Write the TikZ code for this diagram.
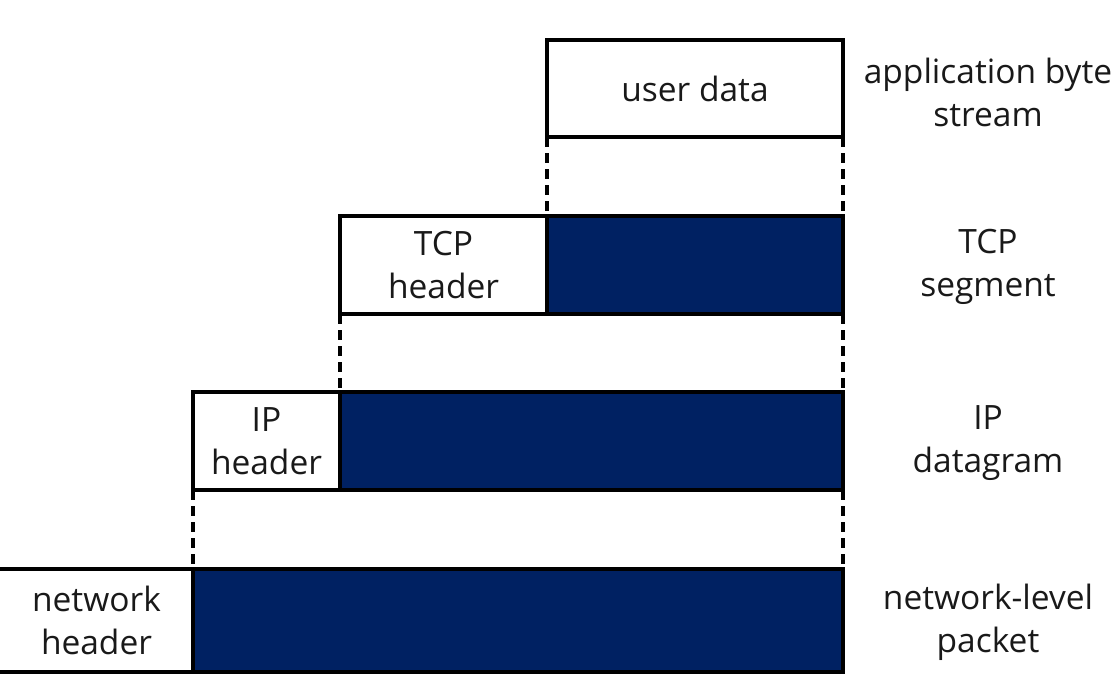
\documentclass[tikz,border=0pt]{standalone}
\usepackage{fontspec}
\setmainfont{Open Sans}
\definecolor{navy}{RGB}{0,33,98}
\begin{document}
\begin{tikzpicture}[x=1pt,y=-1pt,
  lbl/.style={font=\fontsize{33.5}{43}\selectfont, align=center, text=black!90},
  box/.style={draw=black, line width=4pt, fill=white, inner sep=0pt, outer sep=0pt, anchor=north west, lbl},
  pay/.style={box, fill=navy},
  dsh/.style={draw=black, line width=3.5pt, dash pattern=on 10pt off 6pt}]
\useasboundingbox (0,0) rectangle (1119,677);
\clip (0,0) rectangle (1119,677);
% boxes
\node[box, minimum width=296pt, minimum height=97pt] (ud) at (547,40) {user data};
\node[pay, minimum width=296pt, minimum height=98pt] (tcpd) at (547,216) {};
\node[box, minimum width=207pt, minimum height=98pt] (tcph) at (340,216) {TCP\\header};
\node[pay, minimum width=503pt, minimum height=98pt] (ipd) at (340,392) {};
\node[box, minimum width=147pt, minimum height=98pt] (iph) at (193,392) {IP\\header};
\node[pay, minimum width=650pt, minimum height=103pt] (netd) at (193,569) {};
\node[box, minimum width=213pt, minimum height=103pt] (neth) at (-20,569) {\hspace*{20pt}network\\\hspace*{20pt}header};
% dashed connectors
\draw[dsh] (ud.south west) -- (tcpd.north west);
\draw[dsh] (ud.south east) -- (tcpd.north east);
\draw[dsh] (tcph.south west) -- (ipd.north west);
\draw[dsh] (tcpd.south east) -- (ipd.north east);
\draw[dsh] (iph.south west) -- (netd.north west);
\draw[dsh] (ipd.south east) -- (netd.north east);
% layer labels
\node[lbl] (l1) at (988,92) {application byte\\stream};
\node[lbl] (l2) at (988,267) {TCP\\segment};
\node[lbl] (l3) at (988,443) {IP\\datagram};
\node[lbl] (l4) at (988,622) {network-level\\packet};
\end{tikzpicture}
\end{document}
